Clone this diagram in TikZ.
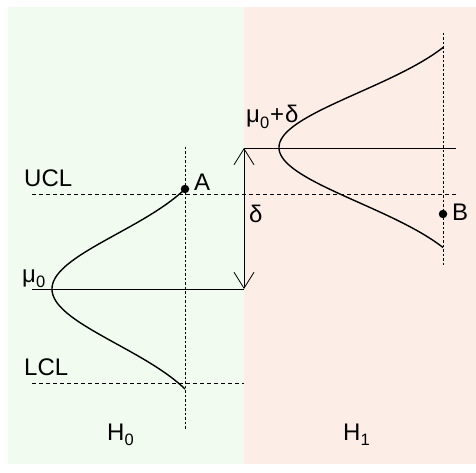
\documentclass[tikz,border=0pt]{standalone}
\usepackage{fontspec}
\setmainfont{Liberation Sans}
\usetikzlibrary{arrows.meta}
\definecolor{hzero}{RGB}{241,251,240}
\definecolor{hone}{RGB}{253,237,231}
\newcommand{\sbs}[1]{\raisebox{-5.5pt}{\fontsize{16.5}{16.5}\selectfont #1}}
\tikzset{
  lbl/.style={inner sep=0pt, anchor=base west, font=\fontsize{24}{27}\selectfont},
  curve/.style={line width=1.4pt},
  solidline/.style={line width=0.8pt},
  limitline/.style={line width=0.8pt, dash pattern=on 4pt off 3pt},
  axisline/.style={line width=0.8pt, dash pattern=on 2.5pt off 2pt},
  dotpt/.style={circle, fill=black, inner sep=0pt, minimum size=8.5pt},
  arr/.style={line width=0.8pt, {Straight Barb[length=16pt,width=20pt]}-{Straight Barb[length=16pt,width=20pt]}}
}
\begin{document}
\begin{tikzpicture}[x=1pt,y=-1pt]
\useasboundingbox (0,0) rectangle (476,473);
\fill[hzero] (8,7) rectangle (244,464);
\fill[hone] (244,7) rectangle (476,464);
% coordinates
\coordinate (ucl0) at (32,194);
\coordinate (ucl1) at (457,194);
\coordinate (lcl0) at (32,383);
\coordinate (lcl1) at (244,383);
\coordinate (mu0a) at (32,289);
\coordinate (mu0b) at (244,289);
\coordinate (mu1a) at (244,148);
\coordinate (mu1b) at (456,148);
\coordinate (ax0a) at (185,147);
\coordinate (ax0b) at (185,430);
\coordinate (ax1a) at (443,33);
\coordinate (ax1b) at (443,265);
% axes
\draw[axisline] (ax0a) -- (ax0b);
\draw[axisline] (ax1a) -- (ax1b);
% limits
\draw[limitline] (ucl0) -- (ucl1);
\draw[limitline] (lcl0) -- (lcl1);
% means
\draw[solidline] (mu0a) -- (mu0b);
\draw[solidline] (mu1a) -- (mu1b);
% shift arrow
\draw[arr] (mu1a) -- (mu0b);
% curves
\draw[curve] plot[domain=-100:100, samples=101, variable=\t, smooth]
  ({185 - 133*(exp(-(\t*\t)/6050) - 0.1915)/0.8085}, {289+\t});
\draw[curve] plot[domain=-100:100, samples=101, variable=\t, smooth]
  ({443 - 164*(exp(-(\t*\t)/6050) - 0.1915)/0.8085}, {147.5+\t});
% points
\node[dotpt] (A) at (185,189) {};
\node[dotpt] (B) at (443,214) {};
% labels
\node[lbl] (lA) at (194,190) {A};
\node[lbl] (lB) at (452,220) {B};
\node[lbl] (lucl) at (24,186) {UCL};
\node[lbl] (llcl) at (24,375) {LCL};
\node[lbl] (lmu0) at (22,282) {μ\sbs{0}};
\node[lbl] (lmu1) at (246,123) {μ\sbs{0}\kern1pt+\kern1ptδ};
\node[lbl] (ldelta) at (249,222) {δ};
\node[lbl] (lh0) at (107,440) {H\sbs{0}};
\node[lbl] (lh1) at (343,440) {H\sbs{1}};
\end{tikzpicture}
\end{document}
